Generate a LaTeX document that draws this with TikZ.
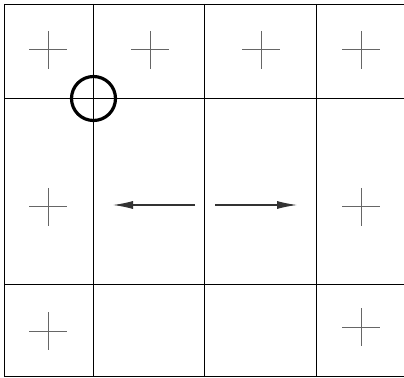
\documentclass[tikz,border=0pt]{standalone}
\usetikzlibrary{arrows.meta}
\begin{document}
\begin{tikzpicture}[x=0.75pt,y=-0.75pt,
  gridline/.style={black,line width=0.75pt},
  crossmark/.style={black!60,line width=0.75pt},
  arr/.style={black!80,line width=0.8pt,-{Latex[length=15pt,width=6pt]}},
  ring/.style={black,line width=2.4pt}]
\useasboundingbox (0,0) rectangle (404,378);
% grid
\foreach \y in {4.5,98.5,284.5,376.5} \draw[gridline] (4,\y) -- (404,\y);
\foreach \x in {4.5,93.5,204.5,316.5} \draw[gridline] (\x,4) -- (\x,377);
% crosses
\foreach \cx/\cy in {48/50,150/50,261/50,361/50,48/207,361/207,48/331,361/327}
  \draw[crossmark] (\cx-19,\cy) -- (\cx+19,\cy) (\cx,\cy-19) -- (\cx,\cy+19);
% arrows
\coordinate (la) at (195,205);
\coordinate (lb) at (113,205);
\coordinate (ra) at (215,205);
\coordinate (rb) at (297,205);
\draw[arr] (la) -- (lb);
\draw[arr] (ra) -- (rb);
% circle
\node[ring,circle,minimum size=44*0.75pt,inner sep=0pt,draw] (c) at (93.5,98.5) {};
\end{tikzpicture}
\end{document}
